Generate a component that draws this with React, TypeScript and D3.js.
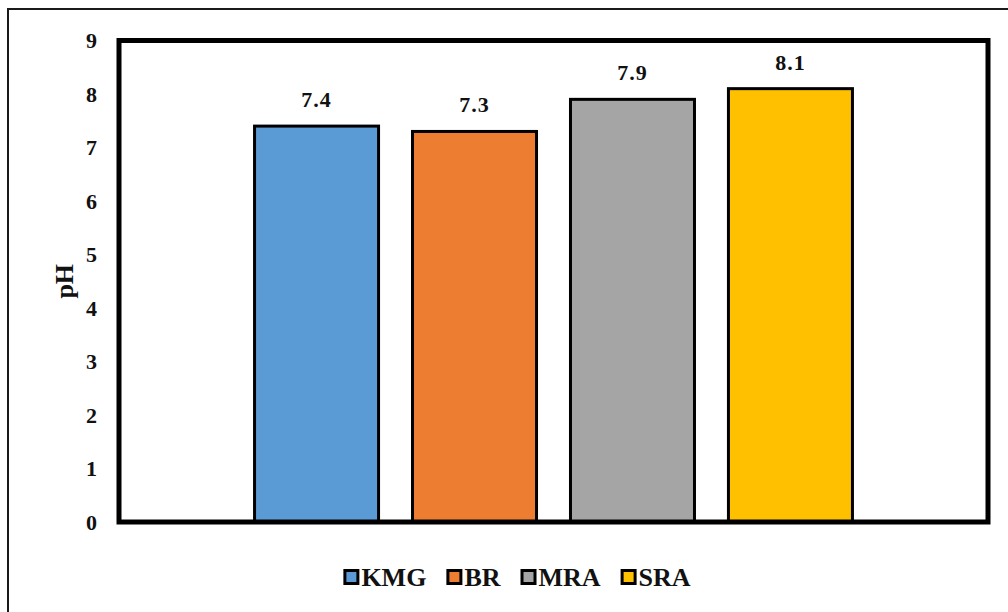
import React, { useEffect, useRef } from 'react';
import * as d3 from 'd3';

const categories = ['pH'];
const seriesNames = ['KMG', 'BR', 'MRA', 'SRA'];
const seriesValues = [7.4, 7.3, 7.9, 8.1];
const seriesColors = ['#5B9BD5', '#ED7D31', '#A5A5A5', '#FFC000'];
const yTicks = [0, 1, 2, 3, 4, 5, 6, 7, 8, 9];

const W = 1008;
const H = 612;
const FONT = '"Liberation Serif", "Times New Roman", serif';

export default function App() {
  const svgRef = useRef<SVGSVGElement>(null);

  useEffect(() => {
    if (!svgRef.current) return;
    const svg = d3.select(svgRef.current);
    svg.selectAll('*').remove();

    const plot = { left: 119, right: 988, top: 40.5, bottom: 522 };

    // outer chart border (clipped at right/bottom like the reference)
    svg.append('rect')
      .attr('x', 8)
      .attr('y', 9)
      .attr('width', W + 20)
      .attr('height', H + 20)
      .attr('fill', 'white')
      .attr('stroke', '#1a1a1a')
      .attr('stroke-width', 2);

    const yScale = d3.scaleLinear().domain([0, 9]).range([plot.bottom, plot.top]);

    const x0 = d3.scaleBand<string>()
      .domain(categories)
      .range([plot.left, plot.right])
      .padding(0.158);

    const x1 = d3.scaleBand<string>()
      .domain(seriesNames)
      .range([0, x0.bandwidth()])
      .paddingInner(0.215)
      .paddingOuter(0.1075);

    // y tick labels
    svg.append('g')
      .selectAll('text')
      .data(yTicks)
      .join('text')
      .attr('x', 97)
      .attr('y', d => yScale(d))
      .attr('dy', '0.35em')
      .attr('text-anchor', 'end')
      .attr('font-family', FONT)
      .attr('font-weight', 'bold')
      .attr('font-size', 22)
      .attr('fill', '#111')
      .text(d => String(d));

    // axis title
    svg.append('text')
      .attr('transform', `translate(73, ${(plot.top + plot.bottom) / 2}) rotate(-90)`)
      .attr('text-anchor', 'middle')
      .attr('font-family', FONT)
      .attr('font-weight', 'bold')
      .attr('font-size', 26)
      .attr('fill', '#111')
      .text('pH');

    // bars
    const groups = svg.append('g')
      .selectAll('g')
      .data(categories)
      .join('g')
      .attr('transform', d => `translate(${x0(d)},0)`);

    groups.selectAll('rect')
      .data(seriesNames.map((name, i) => ({ name, value: seriesValues[i], color: seriesColors[i] })))
      .join('rect')
      .attr('x', d => x1(d.name)!)
      .attr('y', d => yScale(d.value))
      .attr('width', x1.bandwidth())
      .attr('height', d => yScale(0) - yScale(d.value))
      .attr('fill', d => d.color)
      .attr('stroke', '#000')
      .attr('stroke-width', 3);

    groups.selectAll('text')
      .data(seriesNames.map((name, i) => ({ name, value: seriesValues[i] })))
      .join('text')
      .attr('x', d => x1(d.name)! + x1.bandwidth() / 2)
      .attr('y', d => yScale(d.value) - 19)
      .attr('text-anchor', 'middle')
      .attr('font-family', FONT)
      .attr('font-weight', 'bold')
      .attr('font-size', 22)
      .attr('letter-spacing', 1)
      .attr('fill', '#111')
      .text(d => d.value.toFixed(1));

    // plot frame
    svg.append('rect')
      .attr('x', plot.left)
      .attr('y', plot.top)
      .attr('width', plot.right - plot.left)
      .attr('height', plot.bottom - plot.top)
      .attr('fill', 'none')
      .attr('stroke', '#000')
      .attr('stroke-width', 5);

    // legend
    const legend = svg.append('g');
    const box = 16;
    const gap = 20;
    let cx = 0;
    seriesNames.forEach((name, i) => {
      const item = legend.append('g').attr('transform', `translate(${cx},0)`);
      item.append('rect')
        .attr('x', 1.5)
        .attr('y', -box / 2 + 1.5)
        .attr('width', box - 3)
        .attr('height', box - 3)
        .attr('fill', seriesColors[i])
        .attr('stroke', '#000')
        .attr('stroke-width', 3);
      const t = item.append('text')
        .attr('x', box + 2)
        .attr('y', 0)
        .attr('dy', '0.35em')
        .attr('font-family', FONT)
        .attr('font-weight', 'bold')
        .attr('font-size', 26)
        .attr('fill', '#111')
        .text(name);
      const tw = (t.node() as SVGTextElement).getComputedTextLength();
      cx += box + 2 + tw + gap;
    });
    const legendWidth = cx - gap;
    legend.attr('transform', `translate(${517 - legendWidth / 2}, 577)`);
  }, []);

  return (
    <svg
      ref={svgRef}
      width={W}
      height={H}
      style={{ position: 'absolute', left: 0, top: 0, background: 'white' }}
    />
  );
}
